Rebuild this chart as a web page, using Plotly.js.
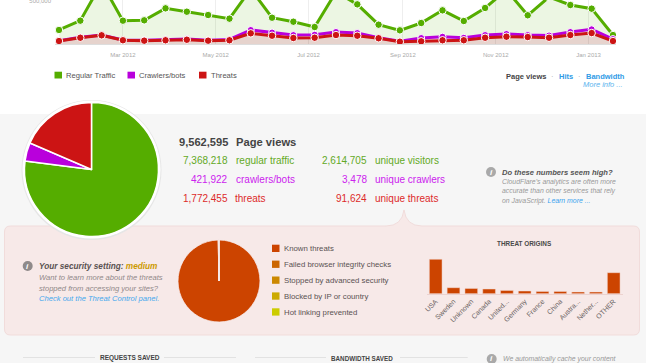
<!DOCTYPE html>
<html><head><meta charset="utf-8">
<script src="https://cdn.plot.ly/plotly-3.0.1.min.js"></script>
<style>html,body{margin:0;padding:0;background:#fff;overflow:hidden}#c{width:646px;height:363px}</style>
</head><body><div id="c"></div>
<script>
const dates = ["2012-01-19","2012-02-02","2012-02-16","2012-03-01","2012-03-15","2012-03-29","2012-04-12","2012-04-26","2012-05-10","2012-05-24","2012-06-07","2012-06-21","2012-07-05","2012-07-19","2012-08-02","2012-08-16","2012-08-30","2012-09-13","2012-09-27","2012-10-11","2012-10-25","2012-11-08","2012-11-22","2012-12-06","2012-12-20","2013-01-03","2013-01-17"];
const regular = [161000,268000,701000,268000,272000,410000,371000,333000,291000,632000,302000,256000,195000,598000,456000,222000,157000,241000,387000,264000,414000,621000,330000,540000,448000,406000,103000];
const crawlers = [38000,77000,103000,46000,44000,52000,57000,44000,52000,161000,132000,103000,107000,138000,126000,72000,31000,69000,84000,72000,103000,115000,103000,98000,138000,169000,57000];
const threats = [34000,72000,100000,43000,38000,43000,49000,38000,43000,123000,95000,69000,72000,103000,95000,66000,26000,31000,43000,43000,72000,84000,80000,72000,103000,126000,34000];
const trafficLabels = ["Regular Traffic","Crawlers/bots","Threats"];
const trafficViews = [7368218,421922,1772455];
const threatLabels = ["Known threats","Failed browser integrity checks","Stopped by advanced security","Blocked by IP or country","Hot linking prevented"];
const threatValues = [1766500,3000,1500,1000,455];
const threatColors = ["#cc4400","#cc6600","#cc8800","#ccaa00","#cccc00"];
const originLabels = ["USA","Sweden","Unknown","Canada","United...","Germany","France","China","Austra...","Nether...","OTHER"];
const originValues = [344000,60000,53000,47000,33000,27000,23000,23000,17000,17000,210000];

const W=646,H=363;
const px=x=>x/W, py=y=>1-y/H;
const GREEN="#55ad00",PURPLE="#b900dc",RED="#cc1414",BLUE="#2f9be6";
const FONT="Liberation Sans, Arial, sans-serif";

function lineTrace(name,y,color,fill,size,lw){
  return {type:"scatter",mode:"lines+markers",name,x:dates,y,fill:"tozeroy",fillcolor:fill,
    line:{color,width:lw},marker:{color,size,line:{color:"#fff",width:1}},hoverinfo:"skip",xaxis:"x",yaxis:"y"};
}
const data=[
  lineTrace(trafficLabels[0],regular,GREEN,"rgba(85,173,0,0.11)",7.5,3),
  lineTrace(trafficLabels[1],crawlers,PURPLE,"rgba(185,0,220,0.05)",7,3),
  lineTrace(trafficLabels[2],threats,RED,"rgba(204,20,20,0.10)",7.5,3),
  {type:"pie",labels:trafficLabels,values:trafficViews,sort:false,direction:"clockwise",rotation:0,
   marker:{colors:[GREEN,PURPLE,RED],line:{color:"#fff",width:1.5}},textinfo:"none",hoverinfo:"skip",
   domain:{x:[px(24.5),px(158.5)],y:[py(236.5),py(102.5)]}},
  {type:"pie",labels:threatLabels,values:threatValues,sort:false,direction:"clockwise",rotation:0,
   marker:{colors:threatColors,line:{color:"#f8eaea",width:0.8}},textinfo:"none",hoverinfo:"skip",
   domain:{x:[px(178),px(260)],y:[py(322),py(240)]}},
  {type:"bar",x:originLabels,y:originValues,xaxis:"x2",yaxis:"y2",marker:{color:"#cc4400",line:{color:"#f3d9d0",width:0.5}},hoverinfo:"skip"}
];

const shapes=[];
function rect(x0,y0,x1,y1,fill,line){shapes.push({type:"rect",layer:"below",xref:"paper",yref:"paper",x0:px(x0),x1:px(x1),y0:py(y0),y1:py(y1),fillcolor:fill,line:{width:line?1:0,color:line||fill}});}
function circle(cx,cy,r,fill,line,layer){shapes.push({type:"circle",layer:layer||"below",xref:"paper",yref:"paper",x0:px(cx-r),x1:px(cx+r),y0:py(cy+r),y1:py(cy-r),fillcolor:fill,line:{width:line?1:0,color:line||fill}});}
function hline(x0,x1,y,c){shapes.push({type:"line",layer:"below",xref:"paper",yref:"paper",x0:px(x0),x1:px(x1),y0:py(y),y1:py(y),line:{color:c,width:1}});}
function P(x,y){return px(x).toFixed(5)+","+py(y).toFixed(5);}

rect(0,114,646,363,"#f6f6f6");
const pl=4.5,pr=639.5,pt=226,pb=335,r=6;
shapes.push({type:"path",layer:"below",xref:"paper",yref:"paper",fillcolor:"#f7e9e8",line:{color:"#f1dcdb",width:1},
 path:`M ${P(pl+r,pt)} L ${P(386,pt)} Q ${P(402,pt)} ${P(404,210)} Q ${P(406,pt)} ${P(422,pt)} L ${P(pr-r,pt)} Q ${P(pr,pt)} ${P(pr,pt+r)} L ${P(pr,pb-r)} Q ${P(pr,pb)} ${P(pr-r,pb)} L ${P(pl+r,pb)} Q ${P(pl,pb)} ${P(pl,pb-r)} L ${P(pl,pt+r)} Q ${P(pl,pt)} ${P(pl+r,pt)} Z`});
circle(91.5,170,70,"#e6e6e6");
circle(91.5,169.5,69,"#ffffff");
[[54.5,GREEN],[127.5,PURPLE],[199,RED]].forEach(a=>rect(a[0],71.7,a[0]+7.5,78.5,a[1]));
threatColors.forEach((c,i)=>rect(272,244.7+i*15.9,279.5,252+i*15.9,c));
circle(491,172,5,"#a9a9a9");circle(27.7,266,5,"#8f8a8a");circle(491.7,359,5,"#a9a9a9");
hline(23,95,357.5,"#e2e2e2");hline(164,236,357.5,"#e2e2e2");hline(255,326,357.5,"#e2e2e2");hline(400,467.7,357.5,"#e2e2e2");

const anns=[];
function T(x,y,text,o){o=o||{};anns.push({xref:"paper",yref:"paper",x:px(x),y:py(y),text,showarrow:false,borderpad:0,
  xanchor:o.a||"left",yanchor:"middle",font:{family:FONT,size:o.s||7.6,color:o.c||"#666"}});}
T(65,75.3,trafficLabels[0],{c:"#555"});T(137.5,75.3,trafficLabels[1],{c:"#555"});T(210,75.3,trafficLabels[2],{c:"#555"});
T(504.8,76.3,"<b>Page views</b>",{c:"#444",s:7.5});T(550,76.3,"·",{c:"#aaa"});T(558,76.3,"<b>Hits</b>",{c:BLUE,s:7.5});T(577,76.3,"·",{c:"#aaa"});T(584.5,76.3,"<b>Bandwidth</b>",{c:BLUE,s:7.5});
T(623.5,84.3,"<i>More info ...</i>",{a:"right",c:"#5bb4ee",s:7.5});
T(228.8,142.3,"<b>9,562,595</b>",{a:"right",s:11.1,c:"#444"});T(234.5,142.3,"<b>Page views</b>",{s:11.2,c:"#444"});
const rows=[[160.7,"#63a925","7,368,218","regular traffic","2,614,705","unique visitors"],[179.4,"#cc22ee","421,922","crawlers/bots","3,478","unique crawlers"],[198.3,"#dd2a2a","1,772,455","threats","91,624","unique threats"]];
rows.forEach(q=>{T(228.8,q[0],q[2],{a:"right",s:10,c:q[1]});T(234.5,q[0],q[3],{s:10,c:q[1]});T(368,q[0],q[4],{a:"right",s:10,c:q[1]});T(373.8,q[0],q[5],{s:10,c:q[1]});});
T(491,172,"<b><i>i</i></b>",{a:"center",s:8,c:"#fff"});T(27.7,266,"<b><i>i</i></b>",{a:"center",s:8,c:"#fff"});T(491.7,358.5,"<b><i>i</i></b>",{a:"center",s:8,c:"#fff"});
T(501,172.3,"<b><i>Do these numbers seem high?</i></b>",{c:"#555",s:7.6});
T(501,181.6,"<i>CloudFlare's analytics are often more</i>",{c:"#999",s:6.9});
T(501,191,"<i>accurate than other services that rely</i>",{c:"#999",s:6.9});
T(501,200.5,`<i>on JavaScript. <span style="color:#3aa3ee">Learn more ...</span></i>`,{c:"#999",s:6.9});
T(37.8,266,`<b><i>Your security setting: <span style="color:#cc9900">medium</span></i></b>`,{c:"#5a5252",s:8.25});
T(37.8,277.3,"<i>Want to learn more about the threats</i>",{c:"#908888",s:7.6});
T(37.8,288,"<i>stopped from accessing your sites?</i>",{c:"#908888",s:7.6});
T(37.8,298.7,"<i>Check out the Threat Control panel.</i>",{c:"#44a8ee",s:7.6});
threatLabels.forEach((l,i)=>T(282.5,248.4+i*15.9,l,{c:"#5a5252",s:7.8}));
T(524.7,243,"<b>THREAT ORIGINS</b>",{a:"center",c:"#4a4a4a",s:6.4});
T(130.3,358,"<b>REQUESTS SAVED</b>",{a:"center",c:"#444",s:6.5});
T(362,358,"<b>BANDWIDTH SAVED</b>",{a:"center",c:"#444",s:6.3});
T(501.8,359,"<i>We automatically cache your content</i>",{c:"#999",s:6.9});

const layout={width:W,height:H,margin:{l:0,r:0,t:0,b:0},showlegend:false,paper_bgcolor:"#fff",plot_bgcolor:"rgba(0,0,0,0)",
 font:{family:FONT},shapes,annotations:anns,
 xaxis:{type:"date",domain:[px(55),px(616)],range:["2012-01-16 09:00","2013-01-19"],anchor:"y",
   tick0:"2012-03-01",dtick:"M2",tickformat:"%b %Y",ticks:"",tickfont:{size:6,color:"#aaa",family:FONT},
   showgrid:true,gridcolor:"#eeeeee",gridwidth:1,showline:true,linecolor:"#dddddd",linewidth:1,zeroline:false,ticklabelstandoff:5,automargin:false},
 yaxis:{domain:[py(44),1],range:[0,505747],anchor:"x",tickmode:"array",tickvals:[500000],ticktext:["500,000"],ticks:"",
   tickfont:{size:6,color:"#aaa",family:FONT},showgrid:true,gridcolor:"#eeeeee",zeroline:false,showline:false,automargin:false,ticklabelstandoff:3,ticklabeloverflow:"allow",ticklabelshift:2.5},
 xaxis2:{domain:[px(426.8),px(622.6)],range:[-0.5,10.5],anchor:"y2",type:"category",tickangle:-45,ticks:"",
   tickfont:{size:7,color:"#6a6262",family:FONT},showline:true,linecolor:"#ecd2cf",linewidth:1,showgrid:false,zeroline:false,automargin:false},
 yaxis2:{domain:[py(293.7),py(255)],range:[0,387000],anchor:"x2",showticklabels:false,ticks:"",showgrid:false,zeroline:false,showline:false,automargin:false},
 bargap:0.287
};
Plotly.newPlot("c",data,layout,{displayModeBar:false,staticPlot:true});
</script></body></html>
